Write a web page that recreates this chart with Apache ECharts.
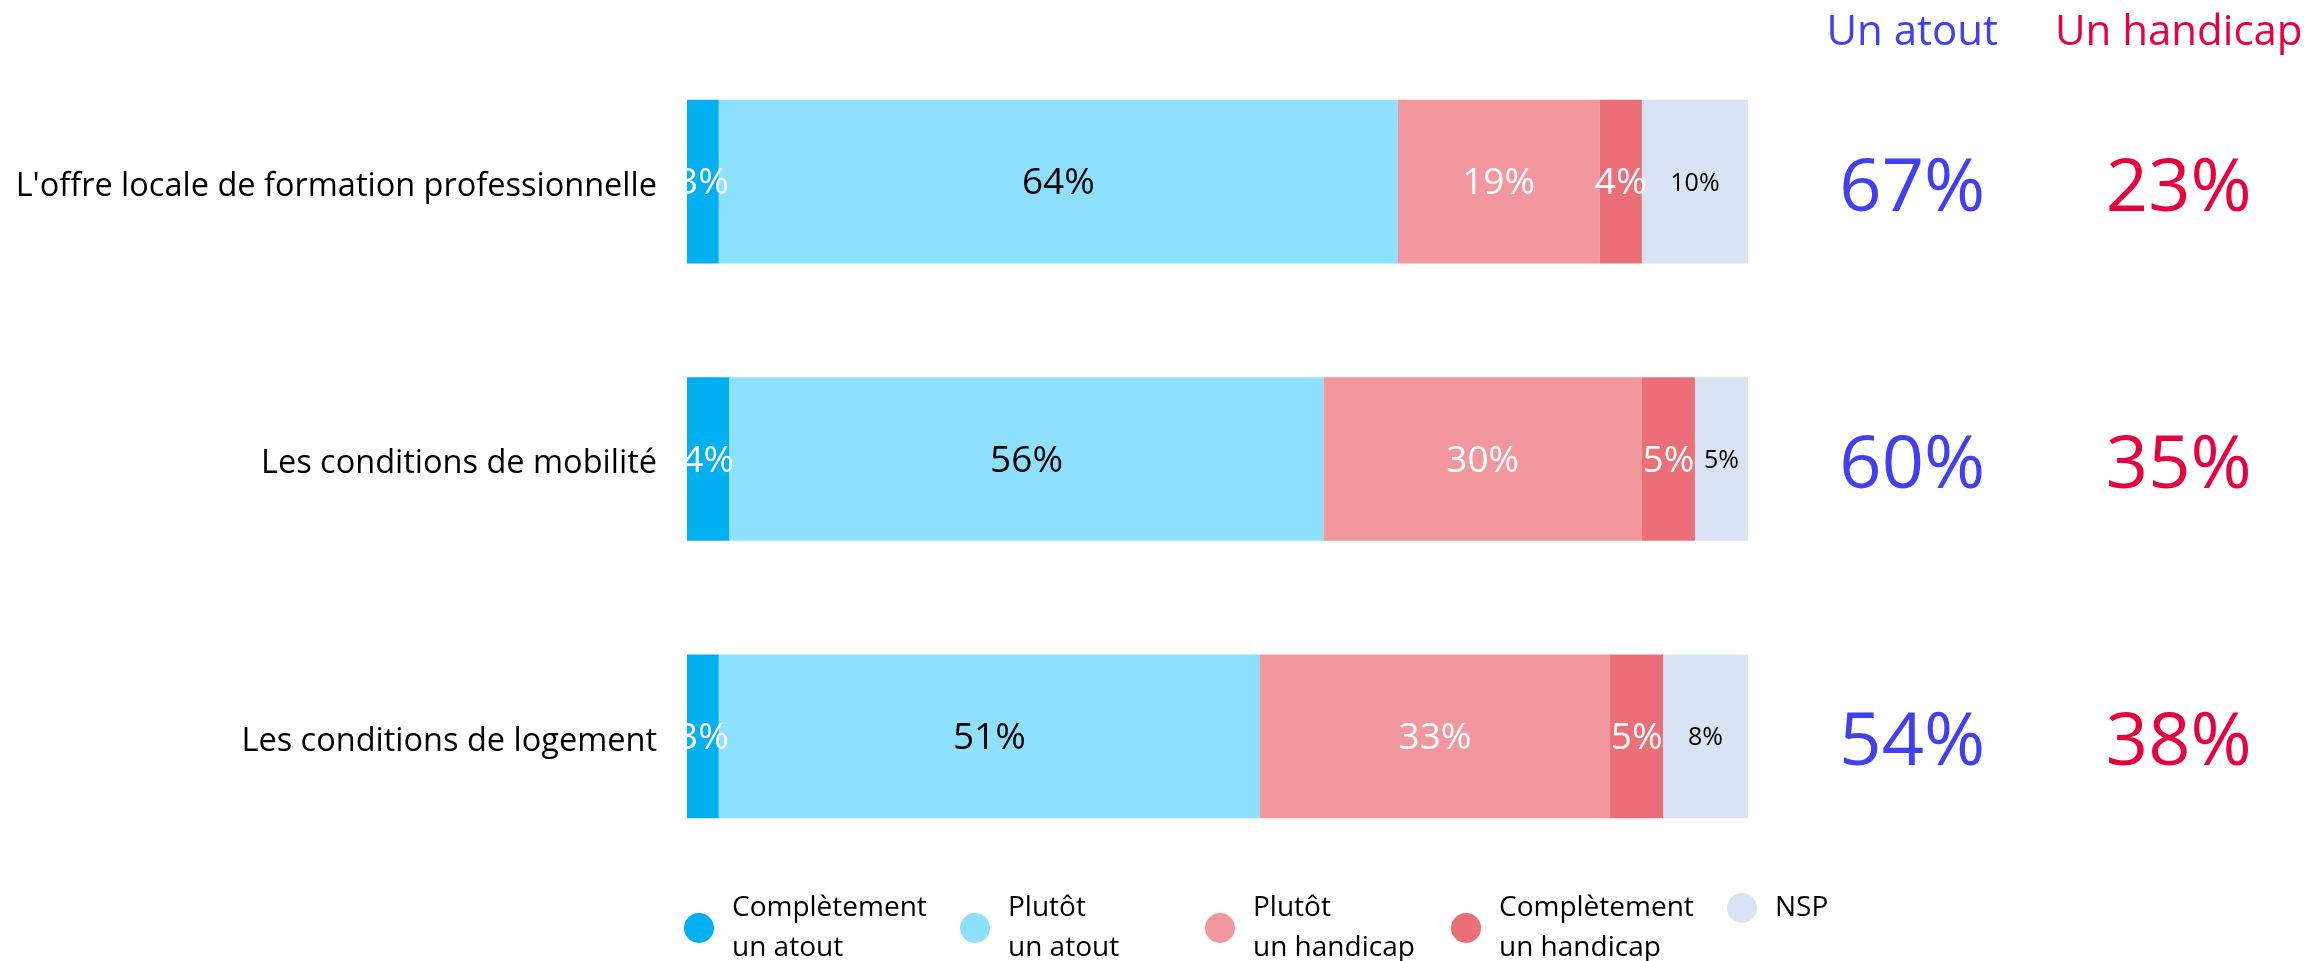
<!DOCTYPE html>
<html>
<head>
<meta charset="utf-8">
<script src="https://cdn.jsdelivr.net/npm/echarts@6/dist/echarts.min.js"></script>
<style>html,body{margin:0;padding:0;background:#fff;}#c{width:2323px;height:961px;}</style>
</head>
<body>
<div id="c"></div>
<script>
const categories = ["L'offre locale de formation professionnelle", "Les conditions de mobilité", "Les conditions de logement"];
const seriesNames = ["Complètement un atout", "Plutôt un atout", "Plutôt un handicap", "Complètement un handicap", "NSP"];
const legendLabels = ["Complètement\nun atout", "Plutôt\nun atout", "Plutôt\nun handicap", "Complètement\nun handicap", "NSP"];
const completementAtout = [3, 4, 3];
const plutotAtout = [64, 56, 51];
const plutotHandicap = [19, 30, 33];
const completementHandicap = [4, 5, 5];
const nsp = [10, 5, 8];
const summaryColumns = ["Un atout", "Un handicap"];
const totalAtout = [67, 60, 54];
const totalHandicap = [23, 35, 38];

const colors = ["#00B0F0", "#8DE1FE", "#F1979D", "#EC6F77", "#DAE3F3"];
const labelColors = ["#fff", "#000", "#fff", "#fff", "#000"];
const labelSizes = [37, 37, 37, 37, 25];
const values = [completementAtout, plutotAtout, plutotHandicap, completementHandicap, nsp];
const FONT = "Open Sans";
const summaryColors = ["#4040F0", "#E8003D"];

const barSeries = seriesNames.map((n, i) => ({
  name: n, type: 'bar', stack: 'total', xAxisIndex: 0, yAxisIndex: 0,
  barCategoryGap: '41%',
  itemStyle: { color: colors[i] },
  label: { show: true, position: 'inside', formatter: '{c}%', color: labelColors[i],
    fontSize: labelSizes[i], fontFamily: FONT },
  labelLayout: { dy: 2 },
  emphasis: { disabled: true },
  data: values[i]
}));

const summarySeries = [totalAtout, totalHandicap].map((arr, k) => ({
  name: summaryColumns[k], type: 'scatter', xAxisIndex: 1, yAxisIndex: 1,
  symbolSize: 2, itemStyle: { color: 'rgba(0,0,0,0)', opacity: 1 },
  label: { show: true, position: 'inside', formatter: p => p.value[2] + '%',
    color: summaryColors[k], opacity: 1, fontSize: 74, fontFamily: FONT },
  labelLayout: { hideOverlap: false, dy: 8 },
  emphasis: { disabled: true },
  data: arr.map((v, i) => [summaryColumns[k], categories[i], v])
}));

const centers = [699, 975, 1220, 1466, 1742];
const legends = seriesNames.map((n, i) => ({
  data: [n], left: centers[i] - 15, top: 883, padding: 0,
  icon: 'circle', itemWidth: 30, itemHeight: 30, selectedMode: false,
  formatter: () => legendLabels[i],
  textStyle: { fontSize: 28, lineHeight: 40, fontFamily: FONT, color: '#000', padding: [10, 0, 0, 13] }
}));

const chart = echarts.init(document.getElementById('c'));
chart.setOption({
  animation: false,
  backgroundColor: '#fff',
  textStyle: { fontFamily: FONT },
  legend: legends,
  grid: [
    { left: 687, right: 575, top: 43, bottom: 86 },
    { left: 1779, right: 11, top: 43, bottom: 86 }
  ],
  xAxis: [
    { type: 'value', gridIndex: 0, min: 0, max: 100, show: false },
    { type: 'category', gridIndex: 1, data: summaryColumns, position: 'top',
      axisLine: { show: false }, axisTick: { show: false }, splitLine: { show: false },
      axisLabel: { interval: 0, margin: -11, fontSize: 42, fontFamily: FONT,
        color: (v) => summaryColors[summaryColumns.indexOf(v)] } }
  ],
  yAxis: [
    { type: 'category', gridIndex: 0, data: categories, inverse: true,
      axisLine: { show: false }, axisTick: { show: false },
      axisLabel: { margin: 30, fontSize: 32.5, color: '#000', fontFamily: FONT,
        formatter: v => '{c|' + v + '}',
        rich: { c: { fontSize: 32.5, fontFamily: FONT, color: '#000', padding: [10, 0, 0, 0] } } } },
    { type: 'category', gridIndex: 1, data: categories, inverse: true, show: false,
      axisLabel: { show: false } }
  ],
  series: barSeries.concat(summarySeries)
});
</script>
</body>
</html>
